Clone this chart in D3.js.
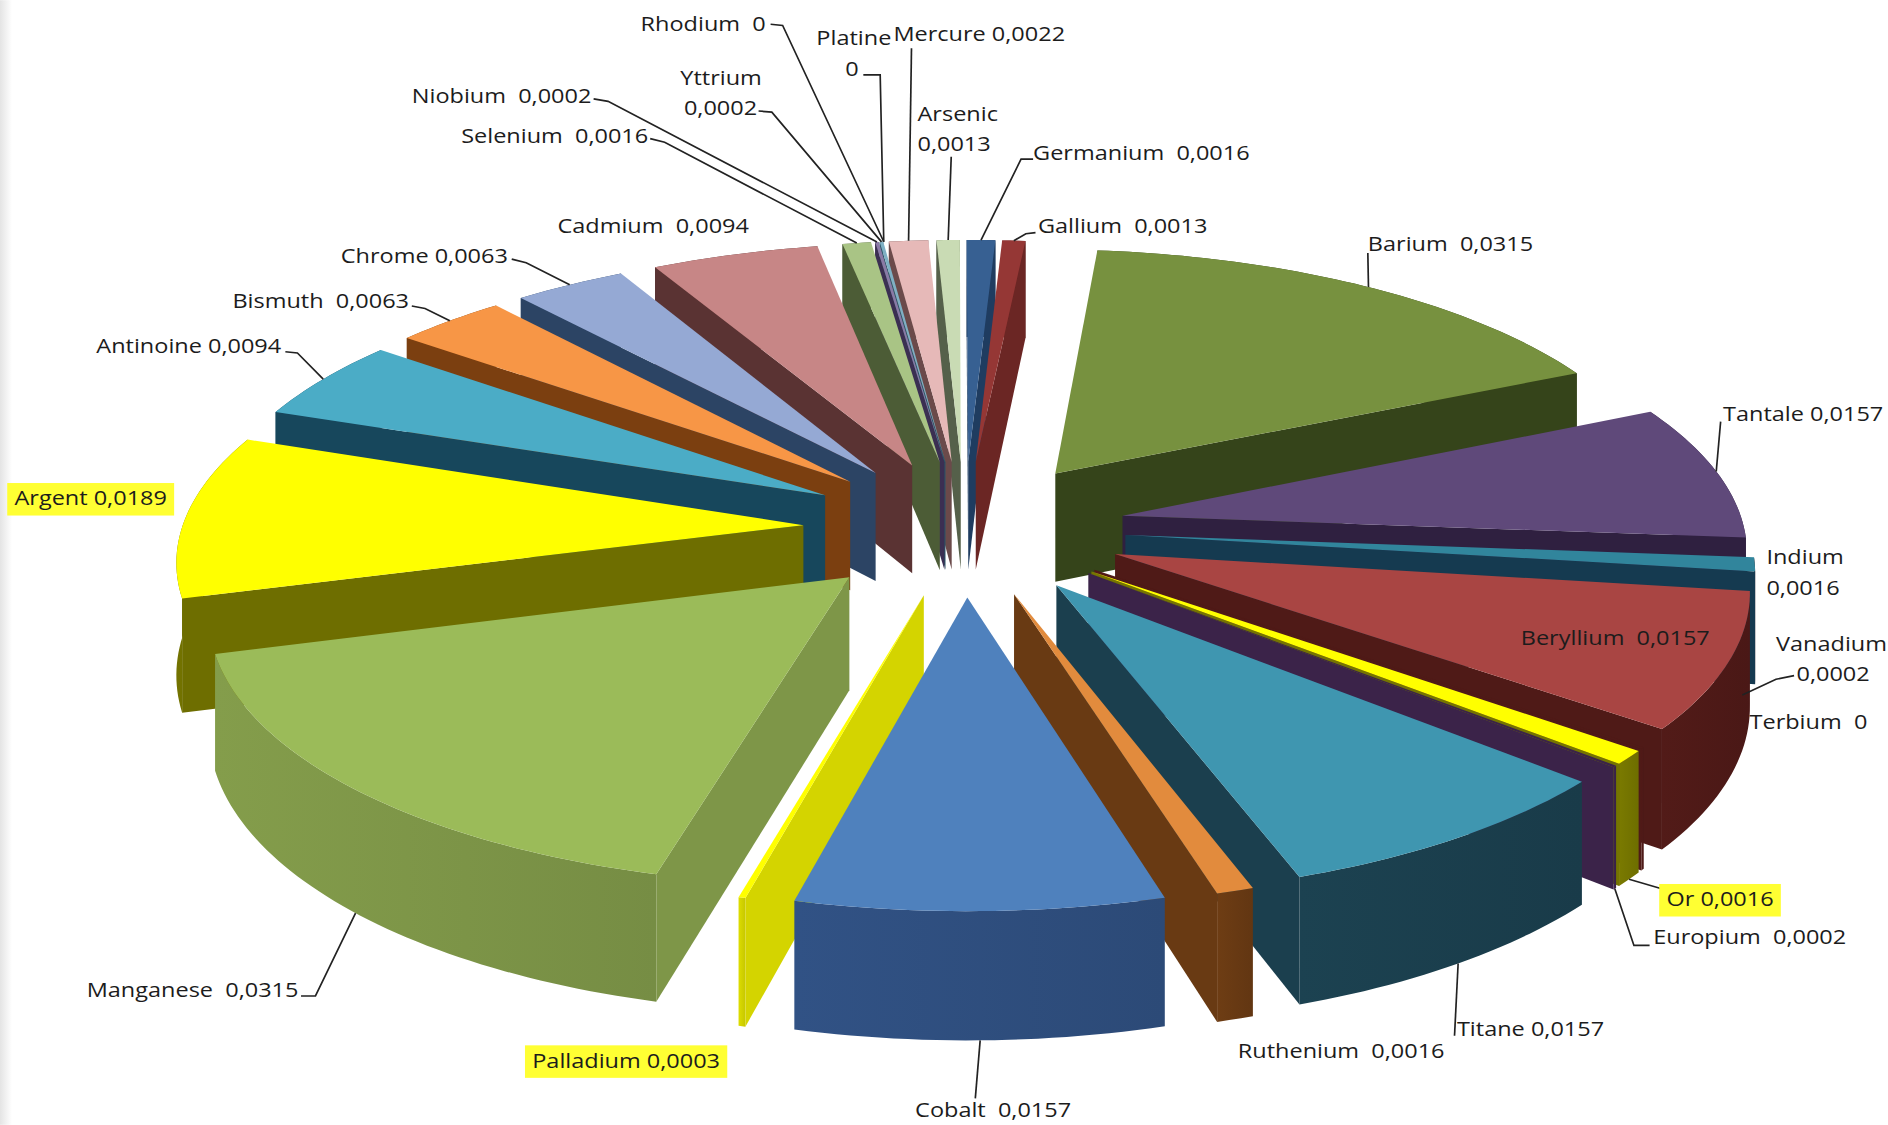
<!DOCTYPE html>
<html>
<head>
<meta charset="utf-8">
<script src="https://cdn.jsdelivr.net/npm/d3@7/dist/d3.min.js"></script>
<style>
  html, body { margin: 0; padding: 0; background: #fff; }
  svg { display: block; }
  text { font-family: "Open Sans", sans-serif; font-size: 16px; fill: #1c1c1c; }
  .leader { fill: none; stroke: #222; stroke-width: 1.4; }
</style>
</head>
<body>
<svg id="chart" width="1888" height="1125" viewBox="0 0 1568 934"></svg>
<script>
// clockwise from the top of the pie
var names = ['Gallium', 'Barium', 'Tantale', 'Indium', 'Beryllium', 'Vanadium', 'Terbium', 'Or', 'Europium',
  'Titane', 'Ruthenium', 'Cobalt', 'Palladium', 'Manganese', 'Argent', 'Antinoine', 'Bismuth', 'Chrome',
  'Cadmium', 'Selenium', 'Niobium', 'Yttrium', 'Rhodium', 'Platine', 'Mercure', 'Arsenic', 'Germanium'];

var values = [0.0013, 0.0315, 0.0157, 0.0016, 0.0157, 0.0002, 0, 0.0016, 0.0002,
  0.0157, 0.0016, 0.0157, 0.0003, 0.0315, 0.0189, 0.0094, 0.0063, 0.0063,
  0.0094, 0.0016, 0.0002, 0.0002, 0, 0, 0.0022, 0.0013, 0.0016];

var topColors = ['#953735', '#77913f', '#5f497a', '#31859c', '#a94543', '#4f1a17', '#c0504d', '#ffff00', '#3b2349',
  '#3f96b0', '#e28b3d', '#4f81bd', '#ffff00', '#9bbb59', '#ffff00', '#4bacc6', '#f79646', '#95a9d4',
  '#c78686', '#a9c485', '#8a7aa5', '#7fb0c4', '#f0a868', '#a0b5d8', '#e6b9b8', '#c9dbb4', '#376092'];

var sideColors = ['#6b2624', '#35441a', '#2f2040', '#153a50', '#4f1a17', '#4f1a17', '#5a1f1d', '#757500', '#3b2349',
  '#1b3f4e', '#693a13', '#2f4f7f', '#d4d400', '#7e9648', '#6e6e00', '#17475c', '#7b3f10', '#2c4464',
  '#5a3333', '#4c5c36', '#3b2f52', '#2a5566', '#7a4a20', '#445a7a', '#6b4a4a', '#55604a', '#1f3c60'];

// the Indium rim melts into the Beryllium one in the picture
var rimOverride = { Indium: '#3d1613' };

var hilite = ['Argent', 'Palladium', 'Or'];

// label text lines and where they sit, by slice name: [left x, centre y of first line]
var labelLines = {
  Rhodium: ['Rhodium  0'], Platine: ['Platine', '0'], Mercure: ['Mercure 0,0022'], Yttrium: ['Yttrium', '0,0002'],
  Niobium: ['Niobium  0,0002'], Selenium: ['Selenium  0,0016'], Arsenic: ['Arsenic', '0,0013'],
  Germanium: ['Germanium  0,0016'], Gallium: ['Gallium  0,0013'], Barium: ['Barium  0,0315'],
  Cadmium: ['Cadmium  0,0094'], Chrome: ['Chrome 0,0063'], Bismuth: ['Bismuth  0,0063'],
  Antinoine: ['Antinoine 0,0094'], Argent: ['Argent 0,0189'], Tantale: ['Tantale 0,0157'],
  Indium: ['Indium', '0,0016'], Beryllium: ['Beryllium  0,0157'], Vanadium: ['Vanadium', '0,0002'],
  Terbium: ['Terbium  0'], Or: ['Or 0,0016'], Europium: ['Europium  0,0002'], Titane: ['Titane 0,0157'],
  Ruthenium: ['Ruthenium  0,0016'], Cobalt: ['Cobalt  0,0157'], Palladium: ['Palladium 0,0003'],
  Manganese: ['Manganese  0,0315']
};
var labelAt = {
  Rhodium: [532, 20], Platine: [678, 32], Mercure: [742, 28], Yttrium: [565, 65], Niobium: [342, 80],
  Selenium: [383, 113], Arsenic: [762, 95], Germanium: [858, 127], Gallium: [862, 188], Barium: [1136, 203],
  Cadmium: [463, 188], Chrome: [283, 213], Bismuth: [193, 250], Antinoine: [80, 287], Argent: [12, 414],
  Tantale: [1431, 344], Indium: [1467, 463], Beryllium: [1263, 530], Vanadium: [1475, 535], Terbium: [1453, 600],
  Or: [1384, 747], Europium: [1373, 778], Titane: [1210, 855], Ruthenium: [1028, 873], Cobalt: [760, 922],
  Palladium: [442, 881], Manganese: [72, 822]
};
// second line of a two line label does not always start at the same x
var secondLineX = { Platine: 702, Yttrium: 568, Vanadium: 1492 };

// leader lines: start points by the label, the far end comes from the slice
var leaderFrom = {
  Rhodium: [[640, 20], [650, 21]], Platine: [[717, 62], [731, 62]], Mercure: [[757, 40]], Yttrium: [[630, 92], [641, 93]],
  Niobium: [[493, 82], [505, 84]], Selenium: [[540, 115], [552, 118]], Arsenic: [[790, 130]],
  Germanium: [[858, 132], [848, 132]], Gallium: [[860, 193], [852, 194]], Barium: [[1136, 210]],
  Chrome: [[425, 215], [437, 218]], Bismuth: [[342, 254], [353, 256]], Antinoine: [[237, 292], [247, 293]],
  Tantale: [[1429, 350]], Vanadium: [[1490, 561], [1475, 564], [1447, 577]], Or: [[1380, 738]],
  Europium: [[1370, 785], [1357, 785]], Titane: [[1208, 860]], Cobalt: [[810, 912]], Manganese: [[250, 827], [262, 827]]
};
// slices whose leader lands on the lower rim of the arc
var leaderLow = ['Manganese', 'Cobalt', 'Titane', 'Or', 'Europium'];
// this one stops short of its slice
var leaderStops = ['Vanadium'];

// view of the pie, tilted with a little perspective
const cx = 801, cy = 438;
const radius = 516, explode = 134, depth = 92;
const squash = 0.42, persp = 0.00022;
const startDeg = 2.9;
const textStretch = 1.22; // the labels are wider than any installed font

function project(X, Y, z) {
  var s = 1 / (1 - persp * Y);
  return [cx + X * s, cy + (squash * Y + z) * s];
}

function rimPoint(d, a, r, z) {
  var m = (d.startAngle + d.endAngle) / 2;
  return project(explode * Math.sin(m) + r * Math.sin(a),
    -(explode * Math.cos(m) + r * Math.cos(a)), z);
}

var pie = d3.pie().sort(null)
  .startAngle(startDeg * Math.PI / 180)
  .endAngle(startDeg * Math.PI / 180 + 2 * Math.PI);

var slices = pie(values).map(function(d, i) {
  d.name = names[i];
  d.top = topColors[i];
  d.side = sideColors[i];
  d.mid = (d.startAngle + d.endAngle) / 2;
  return d;
});

var svg = d3.select('#chart');
var line = d3.line();
var defs = svg.append('defs');

// faint grey edge on the left of the picture
var edge = defs.append('linearGradient').attr('id', 'edge');
edge.append('stop').attr('offset', 0).attr('stop-color', '#e4e4e4');
edge.append('stop').attr('offset', 1).attr('stop-color', '#fff');
svg.append('rect').attr('width', 10).attr('height', 934).attr('fill', 'url(#edge)');

function arcAngles(d) {
  var n = Math.max(2, Math.ceil((d.endAngle - d.startAngle) / 0.02));
  return d3.range(n + 1).map(function(j) {
    return d.startAngle + (d.endAngle - d.startAngle) * j / n;
  });
}

function sideFace(d, a) {
  return [rimPoint(d, a, 0, 0), rimPoint(d, a, radius, 0), rimPoint(d, a, radius, depth), rimPoint(d, a, 0, depth)];
}

// back to front, by how near the middle of the slice is
var drawOrder = slices.filter(function(d) { return d.value > 0; })
  .sort(function(a, b) { return Math.cos(b.mid) - Math.cos(a.mid); });

var cellSel = svg.selectAll('.slice').data(drawOrder).enter().append('g').classed('slice', true);

cellSel.each(function(d, i) {
  var g = d3.select(this);
  var angles = arcAngles(d);
  var rim = rimOverride[d.name] || d.side;

  var gradId = 'rim' + i;
  var grad = defs.append('linearGradient').attr('id', gradId);
  grad.append('stop').attr('offset', 0).attr('stop-color', d3.color(rim).brighter(0.12));
  grad.append('stop').attr('offset', 1).attr('stop-color', d3.color(rim).darker(0.18));

  var upper = angles.map(function(a) { return rimPoint(d, a, radius, 0); });
  var lower = angles.map(function(a) { return rimPoint(d, a, radius, depth); }).reverse();
  g.append('path').attr('d', line(upper.concat(lower)) + 'Z').attr('fill', 'url(#' + gradId + ')');

  var startFace = sideFace(d, d.startAngle);
  var endFace = sideFace(d, d.endAngle);
  // a face only shows when it winds the right way on screen
  if (d3.polygonArea(startFace) > 0) {
    g.append('path').attr('d', line(startFace) + 'Z').attr('fill', d.side);
  }
  if (d3.polygonArea(endFace) < 0) {
    g.append('path').attr('d', line(endFace) + 'Z').attr('fill', d.side);
  }

  var topFace = [rimPoint(d, 0, 0, 0)].concat(upper);
  g.append('path').attr('d', line(topFace) + 'Z').attr('fill', d.top);
});

// leader lines
slices.forEach(function(d) {
  var from = leaderFrom[d.name];
  if (!from) return;
  var low = leaderLow.indexOf(d.name) !== -1;
  var pts = from;
  if (leaderStops.indexOf(d.name) === -1) {
    pts = from.concat([rimPoint(d, d.mid, radius, low ? depth : 0)]);
  }
  svg.append('path').classed('leader', true).attr('d', line(pts));
});

function putText(g, txt, x, y) {
  return g.append('text')
    .attr('xml:space', 'preserve')
    .attr('transform', 'translate(' + x + ',' + y + ') scale(' + textStretch + ',1)')
    .attr('dy', '0.35em')
    .text(txt);
}

// labels
slices.forEach(function(d) {
  var pos = labelAt[d.name];
  var lines = labelLines[d.name];
  var g = svg.append('g').classed('label', true);
  if (hilite.indexOf(d.name) !== -1) {
    var rect = g.append('rect').attr('fill', '#ffff33');
    var t = putText(g, lines[0], pos[0], pos[1]);
    var w = t.node().getBBox().width * textStretch;
    rect.attr('x', pos[0] - 6).attr('y', pos[1] - 13).attr('width', w + 12).attr('height', 27);
    return;
  }
  lines.forEach(function(txt, j) {
    putText(g, txt, j && secondLineX[d.name] ? secondLineX[d.name] : pos[0], pos[1] + j * 25);
  });
});
</script>
</body>
</html>
